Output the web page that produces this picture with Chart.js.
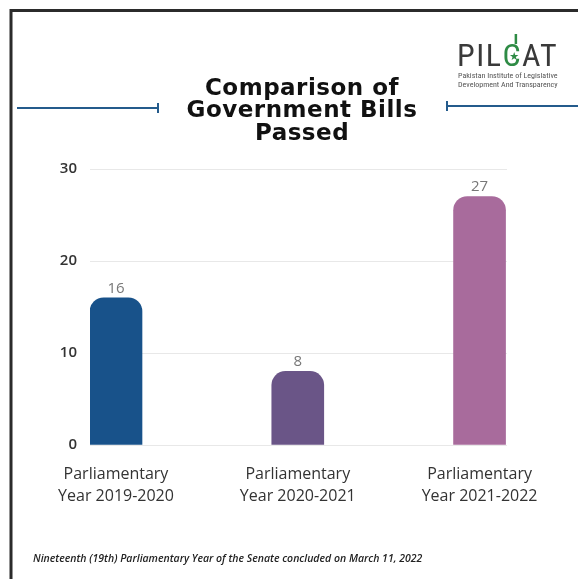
<!DOCTYPE html>
<html>
<head>
<meta charset="utf-8">
<script src="https://cdn.jsdelivr.net/npm/chart.js@4"></script>
<style>
  html, body { margin: 0; padding: 0; background: #fff; }
  #wrap { width: 578px; height: 579px; position: relative; }
</style>
</head>
<body>
<div id="wrap"><canvas id="c" width="578" height="579"></canvas></div>
<script>
// Government bills passed per parliamentary year
const categories = [
  ['Parliamentary', 'Year 2019-2020'],
  ['Parliamentary', 'Year 2020-2021'],
  ['Parliamentary', 'Year 2021-2022']
];
const billsPassed = [16, 8, 27];
const barColors = ['#18528a', '#6a5587', '#a86b9c'];
const yTickValues = [0, 10, 20, 30];
const titleLines = ['Comparison of', 'Government Bills', 'Passed'];
const footnote = 'Nineteenth (19th) Parliamentary Year of the Senate concluded on March 11, 2022';
const logoSubtitle = ['Pakistan Institute of Legislative', 'Development And Transparency'];

const SANS = '"Open Sans", "Noto Sans", sans-serif';
const LOGO = '"Liberation Sans Narrow", "Roboto Condensed", "Roboto", sans-serif';

// Frame, heading, logo and footnote around the plot
const decorations = {
  id: 'decorations',
  beforeDraw(chart) {
    const ctx = chart.ctx;
    ctx.save();
    ctx.fillStyle = '#fff';
    ctx.fillRect(0, 0, chart.width, chart.height);

    // dark frame on the top and left
    ctx.strokeStyle = '#2b2b2b';
    ctx.lineWidth = 3;
    ctx.beginPath();
    ctx.moveTo(11, 579);
    ctx.lineTo(11, 10.5);
    ctx.lineTo(578, 10.5);
    ctx.stroke();

    // heading
    ctx.fillStyle = '#111';
    ctx.font = 'bold 23px "DejaVu Sans", sans-serif';
    ctx.letterSpacing = '0.5px';
    ctx.textAlign = 'center';
    ctx.textBaseline = 'middle';
    titleLines.forEach((t, i) => ctx.fillText(t, 302, 89 + i * 22.5));
    ctx.letterSpacing = '0px';

    // blue rules either side of the heading
    ctx.strokeStyle = '#245b8c';
    ctx.lineWidth = 2;
    ctx.beginPath();
    ctx.moveTo(17, 108); ctx.lineTo(158, 108);
    ctx.moveTo(158, 103); ctx.lineTo(158, 113);
    ctx.moveTo(447, 106); ctx.lineTo(578, 106);
    ctx.moveTo(447, 101); ctx.lineTo(447, 111);
    ctx.stroke();

    // logo
    ctx.textAlign = 'left';
    ctx.textBaseline = 'alphabetic';
    ctx.letterSpacing = '1.5px';
    ctx.font = '32px ' + LOGO;
    let x = 457;
    ctx.fillStyle = '#3a3a3a';
    ctx.fillText('PIL', x, 66);
    x += ctx.measureText('PIL').width;
    ctx.fillStyle = '#2e8b45';
    ctx.fillText('C', x, 66);
    const cW = ctx.measureText('C').width;
    ctx.letterSpacing = '0px';
    ctx.font = '11px "DejaVu Sans", sans-serif';
    ctx.fillText('\u2605', x + cW * 0.34, 60);
    ctx.fillRect(x + cW * 0.62, 34, 2.5, 10);
    x += cW;
    ctx.fillStyle = '#3a3a3a';
    ctx.letterSpacing = '1.5px';
    ctx.font = '32px ' + LOGO;
    ctx.fillText('AT', x, 66);
    ctx.letterSpacing = '0px';
    ctx.font = '8px ' + LOGO;
    ctx.fillStyle = '#555';
    ctx.fillText(logoSubtitle[0], 458, 78);
    ctx.fillText(logoSubtitle[1], 458, 87);

    // footnote
    ctx.font = 'italic 600 10.5px ' + SANS;
    ctx.fillStyle = '#222';
    ctx.fillText(footnote, 33, 562);
    ctx.restore();
  },
  afterDatasetsDraw(chart) {
    const ctx = chart.ctx;
    const meta = chart.getDatasetMeta(0);
    ctx.save();
    ctx.font = '500 15px ' + SANS;
    ctx.fillStyle = '#777';
    ctx.textAlign = 'center';
    ctx.textBaseline = 'bottom';
    meta.data.forEach((bar, i) => {
      ctx.fillText(String(billsPassed[i]), bar.x, bar.y - 2);
    });
    ctx.restore();
  }
};

new Chart(document.getElementById('c'), {
  type: 'bar',
  data: {
    datasets: [{
      data: billsPassed.map((v, i) => ({ x: i, y: v })),
      backgroundColor: barColors,
      barThickness: 52,
      borderRadius: { topLeft: 14, topRight: 14, bottomLeft: 0, bottomRight: 0 },
      borderSkipped: false
    }]
  },
  options: {
    responsive: false,
    animation: false,
    devicePixelRatio: 1,
    layout: { padding: { top: 169, right: 71, left: 0, bottom: 0 } },
    plugins: { legend: { display: false }, tooltip: { enabled: false } },
    scales: {
      x: {
        type: 'linear',
        offset: false,
        min: -0.143,
        max: 2.151,
        grid: { display: false },
        border: { display: false },
        afterBuildTicks(scale) {
          scale.ticks = categories.map((_, i) => ({ value: i }));
        },
        afterFit(scale) { scale.height = 134; },
        ticks: {
          autoSkip: false,
          maxRotation: 0,
          padding: 10,
          color: '#333',
          font: { family: SANS, size: 16, lineHeight: 1.4 },
          callback: (v) => categories[v] || ''
        }
      },
      y: {
        min: 0,
        max: 30,
        afterBuildTicks(scale) {
          scale.ticks = yTickValues.map(v => ({ value: v }));
        },
        afterFit(scale) { scale.width = 90; },
        grid: { color: '#e8e8e8', lineWidth: 1, drawTicks: false },
        border: { display: false },
        ticks: {
          padding: 13,
          color: '#333',
          font: { family: SANS, size: 15, weight: '600' }
        }
      }
    }
  },
  plugins: [decorations]
});
</script>
</body>
</html>
